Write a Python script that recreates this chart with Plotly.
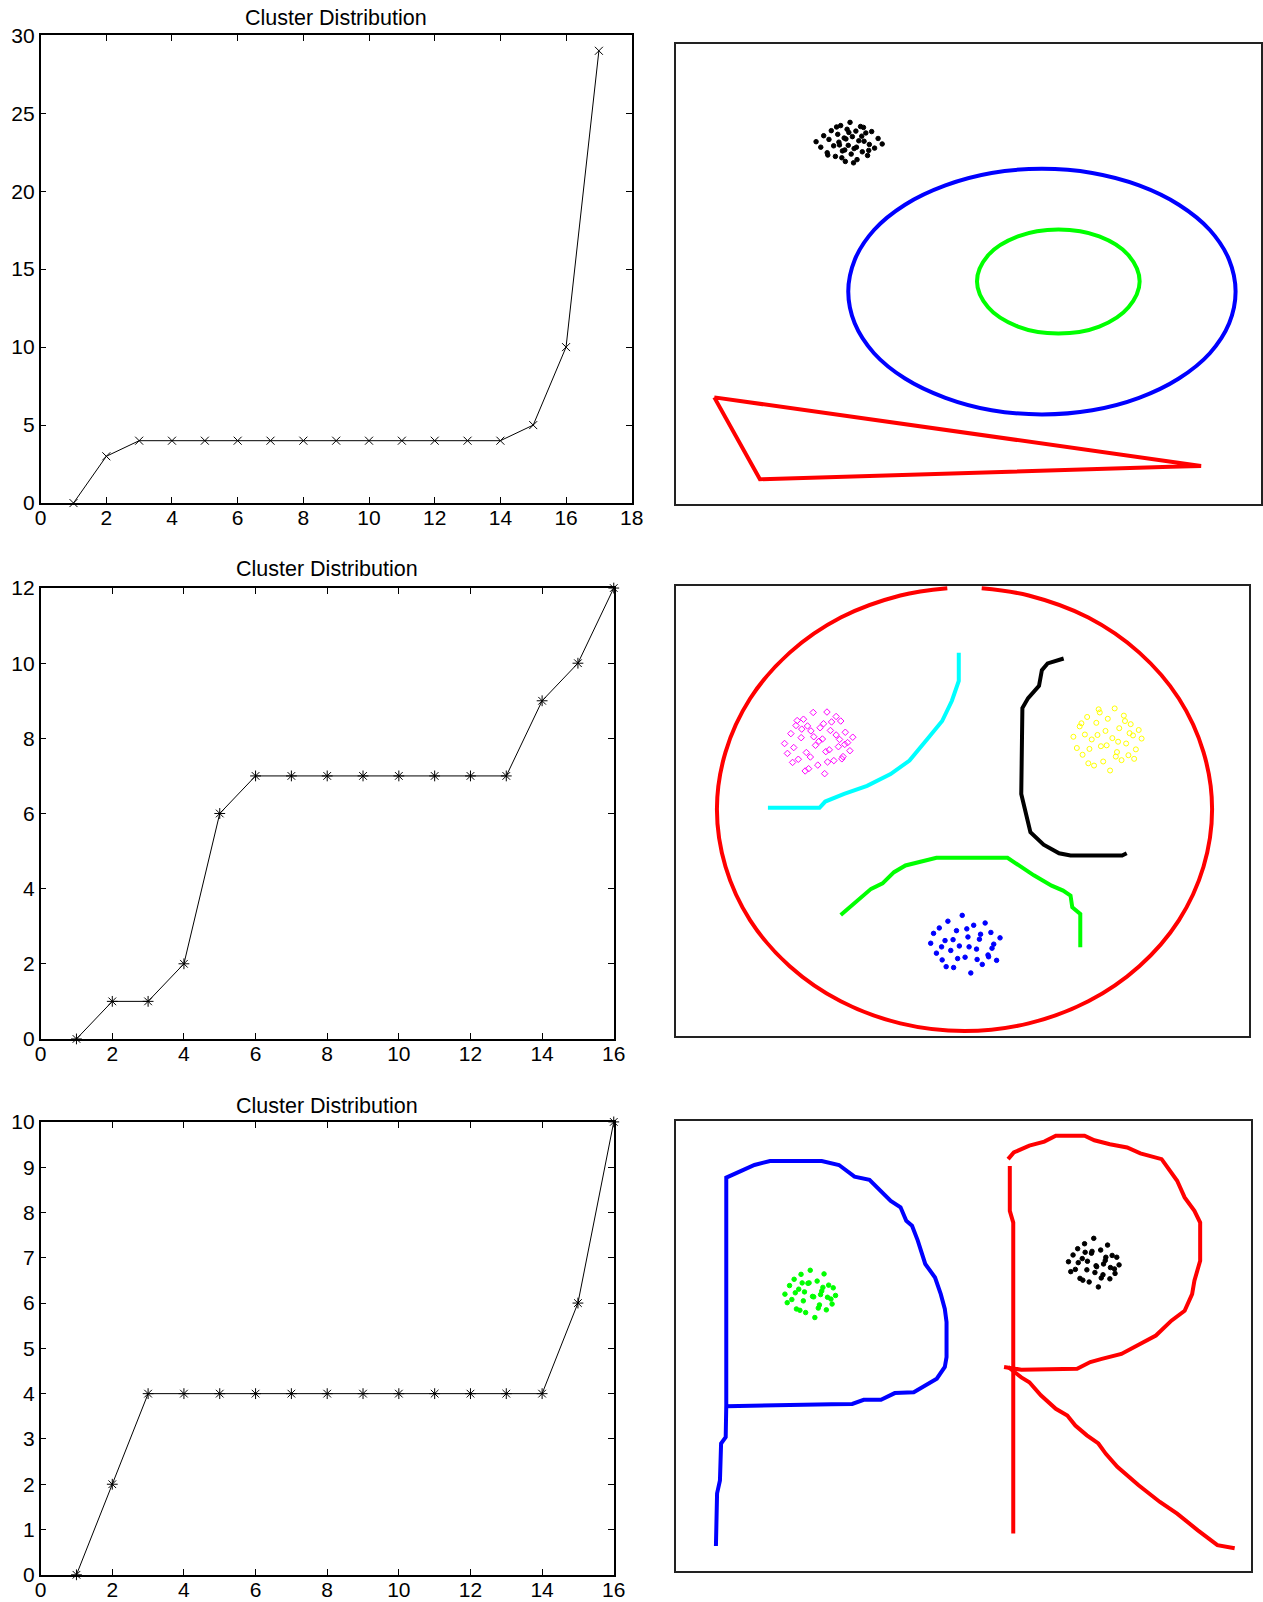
import plotly.graph_objects as go

# Target page is 1263x1602. Measured: page px = S * figure px + B (body margin + capture scaling).
SX, BX = 0.9874, 5.3
SY, BY = 0.986, 10.8
FW = int(round((1263 - BX) / SX))
FH = int(round((1602 - BY) / SY))

# ---------------- Left: cluster distribution curves ----------------
dist1_x = list(range(1, 18))
dist1_y = [0, 3, 4, 4, 4, 4, 4, 4, 4, 4, 4, 4, 4, 4, 5, 10, 29]
dist2_x = list(range(1, 17))
dist2_y = [0, 1, 1, 2, 6, 7, 7, 7, 7, 7, 7, 7, 7, 9, 10, 12]
dist3_x = list(range(1, 17))
dist3_y = [0, 2, 4, 4, 4, 4, 4, 4, 4, 4, 4, 4, 4, 4, 6, 10]
title_text = "Cluster Distribution"

# ---------------- Right panel 1 (blob, ring, triangle) ----------------
p1_blob_x = [24.0, 24.8, 25.3, 25.9, 26.2, 26.6, 27.0, 27.3, 27.7, 28.0, 28.2, 28.5, 28.8, 29.0, 29.3,
             29.5, 29.8, 30.0, 30.2, 30.5, 30.8, 31.0, 31.3, 31.6, 31.9, 32.2, 32.5, 32.8, 33.1, 33.5,
             34.0, 34.6, 35.3, 26.0, 27.5, 28.9, 30.4, 31.8, 33.0, 29.1, 30.9, 27.9, 32.1, 29.6, 28.4]
p1_blob_y = [78.8, 77.6, 80.1, 76.4, 79.3, 81.2, 77.9, 75.6, 80.4, 78.1, 82.3, 76.8, 79.6, 74.5, 81.5,
             78.0, 83.0, 76.1, 79.9, 77.3, 81.1, 74.9, 79.0, 82.1, 76.6, 78.9, 80.7, 75.8, 78.2, 81.0,
             77.4, 79.5, 78.3, 75.9, 82.0, 77.0, 74.2, 80.0, 76.9, 79.4, 77.6, 78.7, 81.9, 80.8, 75.3]
p1_outer_x = [95.7, 94.6, 91.3, 86.0, 79.2, 71.2, 62.6, 54.0, 46.1, 39.2, 33.9, 30.6, 29.5,
              30.6, 33.9, 39.2, 46.1, 54.0, 62.6, 71.2, 79.2, 86.0, 91.3, 94.6, 95.7]
p1_outer_y = [46.2, 53.1, 59.6, 65.1, 69.3, 72.0, 72.9, 72.0, 69.3, 65.1, 59.6, 53.1, 46.2,
              39.3, 32.8, 27.3, 23.1, 20.4, 19.5, 20.4, 23.1, 27.3, 32.8, 39.3, 46.2]
p1_inner_x = [79.3, 77.4, 72.4, 65.4, 58.5, 53.4, 51.5, 53.4, 58.5, 65.4, 72.4, 77.4, 79.3]
p1_inner_y = [48.4, 54.1, 58.2, 59.7, 58.2, 54.1, 48.4, 42.8, 38.6, 37.1, 38.6, 42.8, 48.4]
p1_tri_x = [6.6, 14.4, 84.6, 89.8, 6.6]
p1_tri_y = [23.2, 5.4, 8.1, 8.3, 23.2]

# ---------------- Right panel 2 (circle, arcs, blobs) ----------------
p2_circle_x = [53.4, 61.6, 72.0, 80.9, 87.8, 92.1, 93.6, 92.1, 87.8, 80.9, 72.0, 61.6, 50.4,
               39.2, 28.8, 19.9, 13.0, 8.7, 7.2, 8.7, 13.0, 19.9, 28.8, 39.2, 47.4]
p2_circle_y = [99.5, 97.9, 93.0, 85.2, 75.0, 63.1, 50.4, 37.6, 25.7, 15.5, 7.7, 2.8, 1.1,
               2.8, 7.7, 15.5, 25.7, 37.6, 50.4, 63.1, 75.0, 85.2, 93.0, 97.9, 99.5]
p2_cyan_x = [49.4, 49.4, 48.2, 46.5, 44.1, 40.8, 37.5, 33.4, 29.4, 26.1, 25.1, 16.1]
p2_cyan_y = [85.2, 78.9, 74.5, 70.0, 66.3, 61.2, 58.2, 55.6, 53.8, 52.1, 50.7, 50.7]
p2_black_x = [67.7, 64.9, 63.9, 63.4, 61.5, 60.5, 60.3, 61.2, 61.9, 64.2, 66.9, 68.9, 77.9, 78.7]
p2_black_y = [83.9, 82.8, 81.3, 77.8, 75.1, 72.9, 53.8, 48.7, 45.3, 42.5, 40.6, 40.1, 40.1, 40.6]
p2_green_x = [28.8, 30.1, 32.1, 34.1, 36.1, 38.1, 40.1, 45.5, 57.9, 59.9, 62.5, 65.6, 67.6, 68.9, 69.2, 70.6, 70.6]
p2_green_y = [26.9, 28.3, 30.5, 32.7, 33.9, 36.4, 37.9, 39.6, 39.6, 37.9, 35.7, 33.4, 32.3, 31.2, 28.6, 27.1, 19.7]
p2_mag_x = [19.0, 19.5, 20.1, 20.6, 21.0, 21.4, 21.9, 22.3, 22.8, 23.2, 23.6, 24.0, 24.4, 24.8, 25.2,
            25.6, 26.0, 26.4, 26.8, 27.2, 27.6, 28.0, 28.4, 28.8, 29.2, 29.6, 30.0, 30.4, 30.9, 20.4,
            22.0, 23.5, 25.0, 26.5, 28.0, 29.5, 21.2, 24.1, 27.0, 29.0, 23.0, 26.2, 28.6, 22.6, 25.8]
p2_mag_y = [65.0, 62.8, 67.2, 64.1, 69.0, 61.5, 66.3, 70.4, 63.0, 59.4, 67.8, 71.9, 64.6, 60.2, 68.5,
            66.0, 58.3, 72.0, 63.6, 69.8, 61.2, 66.9, 64.3, 70.0, 62.1, 67.5, 65.2, 63.4, 66.4, 60.8,
            68.2, 62.0, 65.5, 60.9, 71.0, 64.8, 70.1, 66.5, 67.9, 61.6, 68.9, 63.2, 65.9, 58.9, 69.4]
p2_yel_x = [69.4, 70.0, 70.5, 71.0, 71.4, 71.8, 72.2, 72.6, 73.0, 73.4, 73.8, 74.2, 74.6, 75.0, 75.4,
            75.8, 76.2, 76.6, 77.0, 77.4, 77.8, 78.2, 78.6, 79.0, 79.4, 79.8, 80.3, 80.8, 81.3, 72.0,
            73.6, 75.2, 76.8, 78.4, 80.0, 74.0, 77.2, 70.8, 79.2]
p2_yel_y = [66.5, 64.0, 68.8, 62.5, 67.0, 70.9, 63.8, 65.9, 60.1, 69.6, 72.6, 64.4, 61.0, 67.8, 70.5,
            59.0, 66.2, 72.8, 63.1, 68.4, 61.3, 71.2, 65.0, 62.4, 69.3, 66.8, 63.7, 68.0, 66.1, 60.6,
            66.9, 64.6, 62.1, 70.0, 61.6, 71.9, 65.4, 69.5, 67.3]
p2_blue_x = [44.5, 45.0, 45.5, 46.0, 46.5, 47.0, 47.5, 48.0, 48.5, 49.0, 49.5, 50.0, 50.5, 51.0, 51.5,
             52.0, 52.5, 53.0, 53.5, 54.0, 54.5, 55.0, 55.5, 56.0, 56.6, 47.2, 49.2, 51.2, 53.2, 55.2,
             48.4, 50.8, 52.6, 46.4, 54.6]
p2_blue_y = [20.6, 22.8, 18.4, 24.0, 16.9, 21.2, 25.5, 19.0, 15.2, 23.4, 20.0, 26.8, 17.5, 22.0, 14.0,
             24.6, 19.3, 21.5, 15.9, 25.1, 18.0, 23.0, 20.4, 16.8, 21.8, 15.4, 17.2, 19.8, 22.6, 19.5,
             21.4, 23.8, 17.0, 19.8, 17.6]

# ---------------- Right panel 3 (letters P and R) ----------------
p3_P_x = [7.0, 7.2, 7.7, 7.9, 8.7, 8.8, 8.8, 9.7, 11.4, 13.7, 16.4, 25.4, 28.4, 31.1, 33.7, 37.4, 39.1,
          40.1, 41.1, 42.1, 43.4, 45.1, 46.1, 46.8, 47.1, 47.1, 46.8, 45.4, 44.1, 41.4, 38.1, 35.7,
          32.7, 30.7, 27.1, 8.8]
p3_P_y = [5.5, 17.2, 20.1, 28.3, 29.7, 36.8, 87.4, 88.0, 88.9, 90.2, 91.1, 91.1, 90.2, 87.6, 86.9, 82.2, 80.8,
          77.8, 76.7, 73.4, 68.2, 65.2, 61.5, 58.2, 55.3, 47.5, 45.3, 42.7, 41.7, 39.7, 39.5, 38.0,
          38.0, 37.1, 37.0, 36.6]
p3_Rstem_x = [58.1, 58.1, 58.7, 58.7]
p3_Rstem_y = [90.0, 80.0, 77.4, 8.3]
p3_Rbowl_x = [57.8, 58.8, 61.5, 64.1, 66.1, 71.1, 72.8, 75.5, 78.5, 80.8, 84.5, 85.5, 87.2, 88.5, 90.2,
              91.2, 91.2, 90.2, 89.8, 88.5, 86.2, 83.5, 80.8, 77.5, 74.1, 72.1, 69.8, 60.1, 57.1]
p3_Rbowl_y = [91.5, 93.0, 94.5, 95.4, 96.7, 96.7, 95.7, 94.8, 94.1, 92.8, 91.5, 89.6, 86.7, 83.0, 80.0,
              77.4, 68.9, 64.5, 61.5, 57.8, 55.6, 52.3, 50.4, 48.2, 47.1, 46.4, 44.9, 44.7, 45.3]
p3_Rleg_x = [57.8, 60.1, 61.5, 63.5, 66.1, 68.1, 69.5, 71.5, 73.5, 74.8, 76.8, 80.5, 84.2, 87.2, 90.8, 94.2, 97.2]
p3_Rleg_y = [45.3, 43.0, 41.9, 39.0, 36.0, 34.5, 32.3, 30.1, 28.3, 26.0, 23.1, 19.0, 15.3, 12.7, 9.0, 5.7, 5.0]
p3_green_x = [19.0, 19.4, 19.8, 20.2, 20.6, 21.0, 21.4, 21.8, 22.2, 22.6, 23.0, 23.4, 23.8, 24.2, 24.6,
              25.0, 25.4, 25.8, 26.2, 26.6, 27.0, 27.4, 27.8, 20.8, 22.4, 24.0, 25.6, 27.2, 21.6, 23.2,
              24.8, 26.4, 22.0, 25.2]
p3_green_y = [61.5, 59.6, 63.4, 60.3, 64.8, 58.2, 62.6, 65.9, 60.0, 57.4, 63.9, 66.8, 61.0, 56.3, 64.4,
              59.1, 62.2, 66.0, 58.0, 63.5, 60.4, 62.9, 61.2, 61.8, 62.0, 60.9, 63.0, 59.3, 57.9, 64.0,
              58.4, 60.8, 64.0, 61.4]
p3_black_x = [68.3, 68.7, 69.1, 69.5, 69.9, 70.3, 70.7, 71.1, 71.5, 71.9, 72.3, 72.7, 73.1, 73.5, 73.9,
              74.3, 74.7, 75.1, 75.5, 75.9, 76.3, 76.7, 77.1, 70.0, 71.6, 73.2, 74.8, 76.4, 70.8, 72.4,
              74.0, 75.6, 71.2, 74.4, 72.9]
p3_black_y = [68.7, 66.5, 70.2, 67.0, 71.6, 65.0, 69.4, 72.7, 66.9, 64.2, 70.6, 73.9, 67.8, 63.1, 71.3,
              65.8, 69.0, 72.4, 64.9, 70.1, 67.1, 69.7, 68.0, 68.5, 68.8, 67.6, 69.7, 66.1, 64.6, 71.0,
              65.1, 67.4, 70.8, 68.2, 66.3]

FONT = "Liberation Sans, Arial, Helvetica, sans-serif"


def fx(px):  # target page x -> paper fraction
    return min(1.0, max(0.0, (px - BX) / SX / FW))


def fy(py):  # target page y -> paper fraction (from bottom)
    return min(1.0, max(0.0, 1 - (py - BY) / SY / FH))


fig = go.Figure()

# ---- left charts ----
left_specs = [
    ("x", "y", dist1_x, dist1_y, "x-thin", 8, (40, 632), (34, 502), 18, 30, 5, 17),
    ("x3", "y3", dist2_x, dist2_y, "asterisk", 9, (40, 614), (587, 1038), 16, 12, 2, 568),
    ("x5", "y5", dist3_x, dist3_y, "asterisk", 9, (40, 614), (1121, 1574), 16, 10, 1, 1105),
]
for xa, ya, xs, ys, sym, msize, (l, r), (t, b), xmax, ymax, ydt, ty in left_specs:
    fig.add_trace(go.Scatter(
        x=xs, y=ys, xaxis=xa, yaxis=ya, mode="lines+markers",
        line=dict(color="black", width=1),
        marker=dict(symbol=sym, size=msize, color="black", line=dict(color="black", width=1)),
        showlegend=False, hoverinfo="x+y", cliponaxis=False))
    xkey = "xaxis" if xa == "x" else "xaxis" + xa[1:]
    ykey = "yaxis" if ya == "y" else "yaxis" + ya[1:]
    fig.layout[xkey] = dict(
        domain=[fx(l), fx(r)], anchor=ya, range=[0, xmax], dtick=2, tick0=0,
        showline=True, linecolor="black", linewidth=1.5, mirror="allticks",
        ticks="inside", ticklen=6, tickcolor="black", tickwidth=1,
        ticklabelstandoff=-5,
        showgrid=False, zeroline=False,
        tickfont=dict(family=FONT, size=21, color="black"))
    fig.layout[ykey] = dict(
        domain=[fy(b), fy(t)], anchor=xa, range=[0, ymax], dtick=ydt, tick0=0,
        showline=True, linecolor="black", linewidth=1.5, mirror="allticks",
        ticks="inside", ticklen=6, tickcolor="black", tickwidth=1,
        showgrid=False, zeroline=False,
        tickfont=dict(family=FONT, size=21, color="black"))
    fig.add_annotation(
        x=fx((l + r) / 2), y=fy(ty), xref="paper", yref="paper",
        text=title_text, showarrow=False, xanchor="center", yanchor="middle",
        font=dict(family=FONT, size=21.5, color="black"))

# ---- right panels ----
panels = [
    ("x2", "y2", (676, 1262), (43, 503)),
    ("x4", "y4", (676, 1250), (585, 1035)),
    ("x6", "y6", (676, 1252), (1120, 1570)),
]
for xa, ya, (l, r), (t, b) in panels:
    xkey = "xaxis" + xa[1:]
    ykey = "yaxis" + ya[1:]
    fig.layout[xkey] = dict(domain=[fx(l), fx(r)], anchor=ya, range=[0, 100],
                            showline=True, linecolor="#222", linewidth=2, mirror=True,
                            showticklabels=False, ticks="", showgrid=False, zeroline=False)
    fig.layout[ykey] = dict(domain=[fy(b), fy(t)], anchor=xa, range=[0, 100],
                            showline=True, linecolor="#222", linewidth=2, mirror=True,
                            showticklabels=False, ticks="", showgrid=False, zeroline=False)


def curve(xs, ys, xa, ya, color, shape="linear", width=4):
    fig.add_trace(go.Scatter(x=xs, y=ys, xaxis=xa, yaxis=ya, mode="lines",
                             line=dict(color=color, width=width, shape=shape),
                             showlegend=False, hoverinfo="skip"))


def blob(xs, ys, xa, ya, color, symbol="circle", size=4):
    fig.add_trace(go.Scatter(x=xs, y=ys, xaxis=xa, yaxis=ya, mode="markers",
                             marker=dict(color=color, size=size, symbol=symbol,
                                         line=dict(color=color, width=1)),
                             showlegend=False, hoverinfo="skip"))


# panel 1
blob(p1_blob_x, p1_blob_y, "x2", "y2", "black", size=4.5)
curve(p1_outer_x, p1_outer_y, "x2", "y2", "#0000FF", shape="spline")
curve(p1_inner_x, p1_inner_y, "x2", "y2", "#00FF00", shape="spline")
curve(p1_tri_x, p1_tri_y, "x2", "y2", "#FF0000")

# panel 2
curve(p2_circle_x, p2_circle_y, "x4", "y4", "#FF0000", shape="spline")
curve(p2_cyan_x, p2_cyan_y, "x4", "y4", "#00FFFF")
curve(p2_black_x, p2_black_y, "x4", "y4", "black")
curve(p2_green_x, p2_green_y, "x4", "y4", "#00FF00")
blob(p2_mag_x, p2_mag_y, "x4", "y4", "#FF00FF", symbol="diamond-open", size=5)
blob(p2_yel_x, p2_yel_y, "x4", "y4", "#FFFF00", symbol="circle-open", size=5)
blob(p2_blue_x, p2_blue_y, "x4", "y4", "#0000FF", size=4.5)

# panel 3
curve(p3_P_x, p3_P_y, "x6", "y6", "#0000FF")
curve(p3_Rstem_x, p3_Rstem_y, "x6", "y6", "#FF0000")
curve(p3_Rbowl_x, p3_Rbowl_y, "x6", "y6", "#FF0000")
curve(p3_Rleg_x, p3_Rleg_y, "x6", "y6", "#FF0000")
blob(p3_green_x, p3_green_y, "x6", "y6", "#00FF00", size=4.5)
blob(p3_black_x, p3_black_y, "x6", "y6", "black", size=4.5)

fig.update_layout(width=FW, height=FH, margin=dict(l=0, r=0, t=0, b=0),
                  paper_bgcolor="white", plot_bgcolor="white", showlegend=False,
                  font=dict(family=FONT, color="black"))

fig.write_html("out.html")
